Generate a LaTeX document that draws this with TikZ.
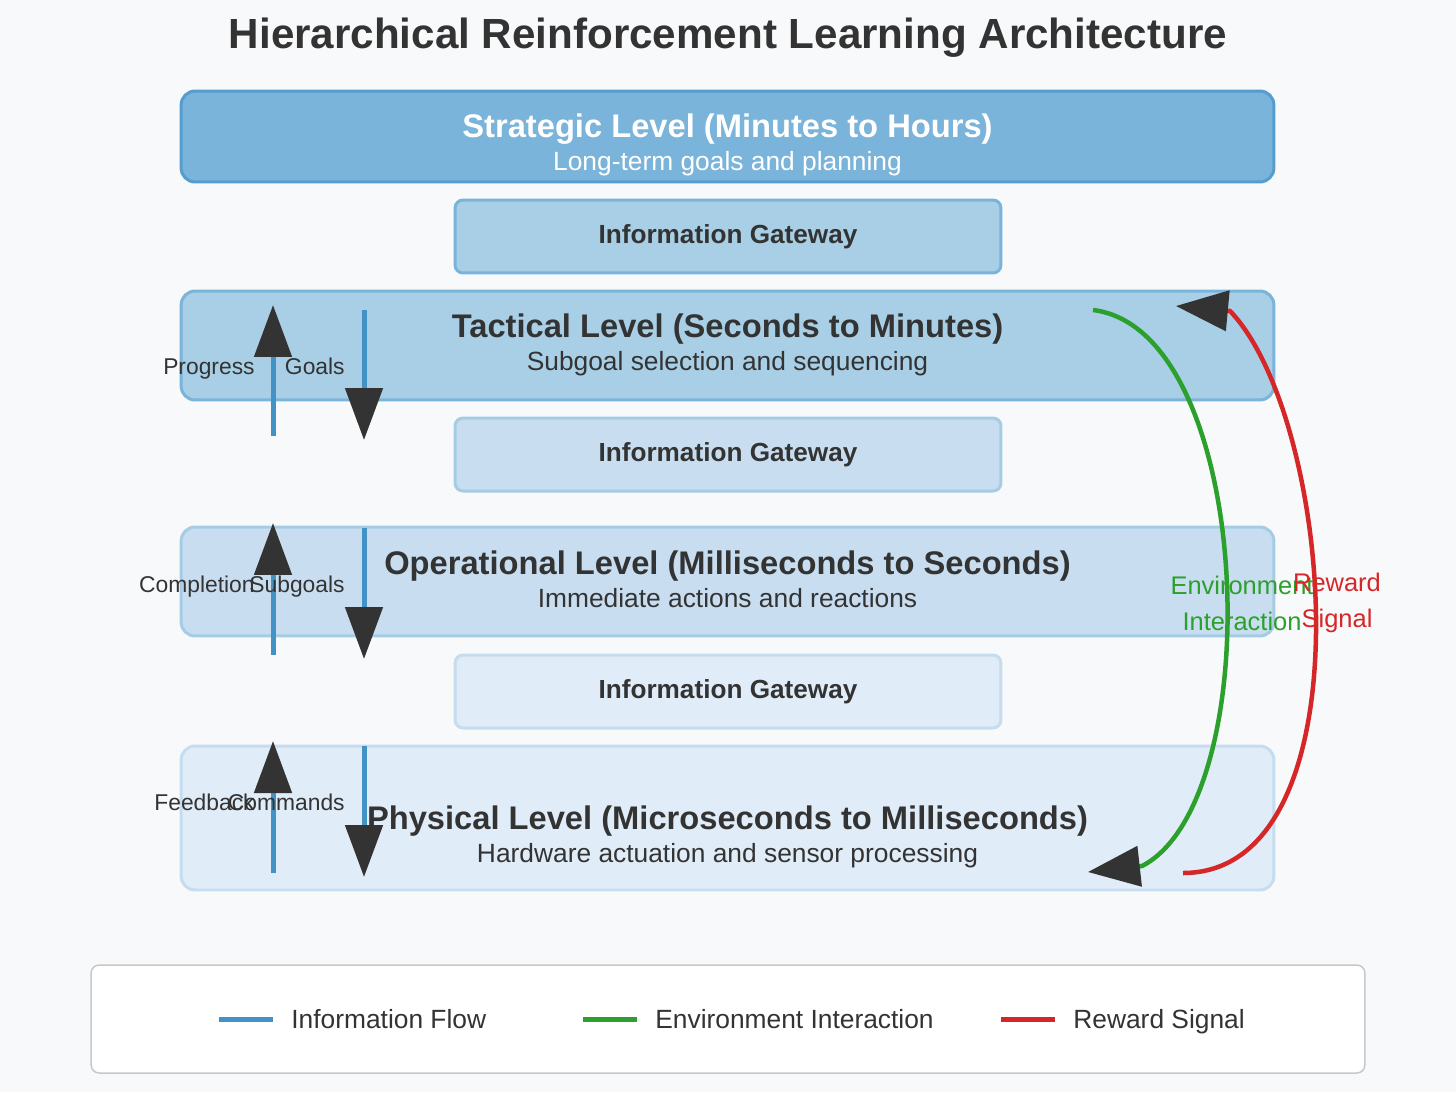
\documentclass[tikz,border=0pt]{standalone}
\usepackage{fontspec}
\setmainfont{Liberation Sans}
\usepackage{xcolor}
\usepackage{tikz}
\usetikzlibrary{arrows.meta,positioning,calc}
\definecolor{hrbg}{RGB}{248,249,250}
\definecolor{hrtext}{RGB}{51,51,51}
\definecolor{hrtip}{RGB}{51,51,51}
\definecolor{hrstrfill}{RGB}{122,180,218}
\definecolor{hrstrline}{RGB}{86,156,206}
\definecolor{hrtacfill}{RGB}{168,207,229}
\definecolor{hrtacline}{RGB}{122,180,218}
\definecolor{hropfill}{RGB}{200,222,240}
\definecolor{hropline}{RGB}{166,204,228}
\definecolor{hrphyfill}{RGB}{224,236,247}
\definecolor{hrphyline}{RGB}{198,220,239}
\definecolor{hrflow}{RGB}{66,146,198}
\definecolor{hrgreen}{RGB}{44,160,44}
\definecolor{hrred}{RGB}{214,39,40}
\definecolor{hrlegline}{RGB}{200,200,200}

\begin{document}
\begin{tikzpicture}[x=0.02cm, y=-0.02cm,
  level/.style={draw, line width=0.06cm, rounded corners=0.28cm, minimum width=21.86cm},
  gateway/.style={draw, line width=0.06cm, rounded corners=0.16cm, minimum width=10.92cm, minimum height=1.46cm, text=hrtext, font=\bfseries\fontsize{14.9}{17}\selectfont},
  lvltitle/.style={anchor=base, inner sep=0pt, text=hrtext, font=\bfseries\fontsize{18.6}{22}\selectfont},
  lvlsub/.style={anchor=base, inner sep=0pt, text=hrtext, font=\fontsize{15}{18}\selectfont},
  flow/.style={hrflow, line width=0.1cm, -{Triangle[length=1.04cm, width=0.74cm, color=hrtip]}},
  sidelabel/.style={anchor=base east, inner sep=0pt, text=hrtext, font=\fontsize{13}{16}\selectfont},
  loopline/.style={line width=0.09cm, -{Triangle[length=1.04cm, width=0.8cm, color=hrtip]}},
  looplabel/.style={align=center, inner sep=0pt, font=\fontsize{14.5}{20.4}\selectfont},
  legendkey/.style={line width=0.1cm},
  legendtext/.style={anchor=base west, inner sep=0pt, text=hrtext, font=\fontsize{15}{18}\selectfont}
]
  \useasboundingbox (0,0) rectangle (1456,1092);
  \fill[hrbg] (0,0) rectangle (1456,1092);

  % title
  \node[anchor=base, inner sep=0pt, text=hrtext, font=\bfseries\fontsize{24}{28}\selectfont] (title) at (728,48) {Hierarchical Reinforcement Learning Architecture};

  % levels and gateways
  \node[level, fill=hrstrfill, draw=hrstrline, minimum height=1.82cm] (strategic) at (727.5,136.5) {};
  \node[lvltitle, text=white] (strategicT) at (727.5,137) {Strategic Level (Minutes to Hours)};
  \node[lvlsub, text=white] (strategicS) at (727.5,170) {Long-term goals and planning};

  \node[gateway, fill=hrtacfill, draw=hrtacline] (gate1) at (728,236.5) {Information Gateway};

  \node[level, fill=hrtacfill, draw=hrtacline, minimum height=2.18cm] (tactical) at (727.5,345.5) {};
  \node[lvltitle] (tacticalT) at (727.5,337) {Tactical Level (Seconds to Minutes)};
  \node[lvlsub] (tacticalS) at (727.5,370.5) {Subgoal selection and sequencing};

  \node[gateway, fill=hropfill, draw=hropline] (gate2) at (728,454.5) {Information Gateway};

  \node[level, fill=hropfill, draw=hropline, minimum height=2.18cm] (operational) at (727.5,581.5) {};
  \node[lvltitle] (operationalT) at (727.5,574) {Operational Level (Milliseconds to Seconds)};
  \node[lvlsub] (operationalS) at (727.5,607.5) {Immediate actions and reactions};

  \node[gateway, fill=hrphyfill, draw=hrphyline] (gate3) at (728,691.5) {Information Gateway};

  \node[level, fill=hrphyfill, draw=hrphyline, minimum height=2.88cm] (physical) at (727.5,818) {};
  \node[lvltitle] (physicalT) at (727.5,829) {Physical Level (Microseconds to Milliseconds)};
  \node[lvlsub] (physicalS) at (727.5,862.5) {Hardware actuation and sensor processing};

  % information flow between levels
  \coordinate (progA) at (273,436);  \coordinate (progB) at (273,305);
  \coordinate (goalA) at (364,310);  \coordinate (goalB) at (364,440);
  \coordinate (compA) at (273,655);  \coordinate (compB) at (273,523);
  \coordinate (subA)  at (364,528);  \coordinate (subB)  at (364,659);
  \coordinate (feedA) at (273,873);  \coordinate (feedB) at (273,741);
  \coordinate (cmdA)  at (364,746);  \coordinate (cmdB)  at (364,877);
  \draw[flow] (progA) -- (progB);
  \draw[flow] (goalA) -- (goalB);
  \draw[flow] (compA) -- (compB);
  \draw[flow] (subA) -- (subB);
  \draw[flow] (feedA) -- (feedB);
  \draw[flow] (cmdA) -- (cmdB);

  \node[sidelabel] (progL) at (255,374) {Progress};
  \node[sidelabel] (goalL) at (345,374) {Goals};
  \node[sidelabel] (compL) at (255,592) {Completion};
  \node[sidelabel] (subL)  at (345,592) {Subgoals};
  \node[sidelabel] (feedL) at (255,810) {Feedback};
  \node[sidelabel] (cmdL)  at (345,810) {Commands};

  % environment and reward loops
  \coordinate (envA) at (1093,310);  \coordinate (envB) at (1142,866);  \coordinate (envC) at (1088,872);
  \coordinate (rewA) at (1183,873);  \coordinate (rewB) at (1230,311);  \coordinate (rewC) at (1176,306);
  \draw[loopline, hrgreen] (envA) .. controls (1255,330) and (1270,800) .. (envB) -- (envC);
  \draw[loopline, hrred] (rewA) .. controls (1370,873) and (1335,420) .. (rewB) -- (rewC);

  \node[looplabel, text=hrgreen] (envL) at (1242,603) {Environment\\Interaction};
  \node[looplabel, text=hrred] (rewL) at (1337,603) {Reward\\Signal};

  % legend
  \node[draw=hrlegline, fill=white, line width=0.03cm, rounded corners=0.16cm, minimum width=25.48cm, minimum height=2.16cm] (legend) at (728,1019) {};
  \coordinate (keyflowA) at (219,1019);  \coordinate (keyflowB) at (273,1019);
  \coordinate (keyenvA)  at (583,1019);  \coordinate (keyenvB)  at (637,1019);
  \coordinate (keyrewA)  at (1001,1019); \coordinate (keyrewB)  at (1055,1019);
  \draw[legendkey, hrflow] (keyflowA) -- (keyflowB);
  \draw[legendkey, hrgreen] (keyenvA) -- (keyenvB);
  \draw[legendkey, hrred] (keyrewA) -- (keyrewB);
  \node[legendtext] (keyflowT) at (291,1028.5) {Information Flow};
  \node[legendtext] (keyenvT)  at (655,1028.5) {Environment Interaction};
  \node[legendtext] (keyrewT)  at (1073,1028.5) {Reward Signal};
\end{tikzpicture}
\end{document}
